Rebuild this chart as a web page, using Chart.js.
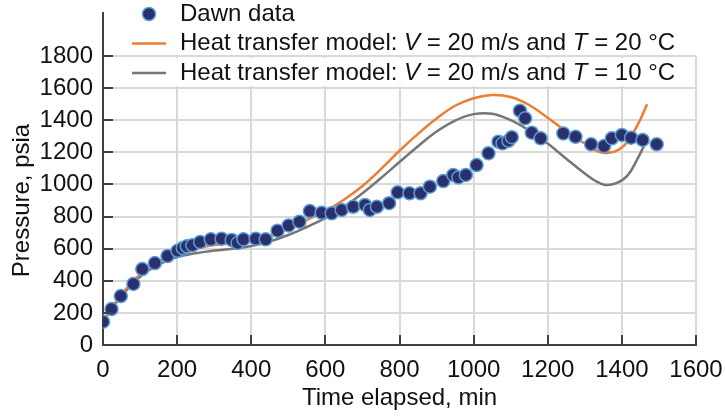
<!DOCTYPE html>
<html>
<head>
<meta charset="utf-8">
<script src="https://cdn.jsdelivr.net/npm/chart.js@4"></script>
<style>
  html, body { margin: 0; padding: 0; background: #fff; }
  #wrap { width: 725px; height: 417px; }
</style>
</head>
<body>
<div id="wrap"><canvas id="chart" width="725" height="417"></canvas></div>
<script>
// Dawn measured pressure
const dawnTime = [0, 23, 48, 82, 106, 140, 174, 201, 215, 226, 241, 262, 291, 320, 347, 363, 379, 412, 439, 471, 501, 530, 558, 590, 617, 644, 675, 707, 720, 739, 772, 795, 827, 857, 882, 918, 945, 959, 979, 1008, 1040, 1067, 1078, 1094, 1103, 1125, 1139, 1157, 1181, 1242, 1275, 1317, 1352, 1373, 1400, 1425, 1456, 1494];
const dawnPressure = [145, 224, 305, 380, 473, 510, 554, 587, 604, 615, 621, 641, 658, 662, 654, 635, 658, 662, 658, 712, 745, 768, 834, 824, 820, 841, 861, 872, 841, 861, 883, 951, 945, 945, 986, 1021, 1059, 1044, 1059, 1121, 1194, 1266, 1256, 1272, 1294, 1459, 1412, 1322, 1287, 1318, 1297, 1250, 1239, 1287, 1308, 1291, 1277, 1250];

// Heat transfer model, V = 20 m/s, T = 20 C
const model20Time = [0, 25, 50, 100, 150, 200, 250, 300, 350, 400, 450, 500, 550, 600, 650, 700, 750, 800, 850, 900, 950, 1000, 1050, 1100, 1150, 1200, 1250, 1300, 1350, 1400, 1440, 1468];
const model20Pressure = [150, 235, 315, 440, 520, 570, 600, 622, 635, 648, 675, 725, 780, 835, 905, 990, 1095, 1210, 1315, 1410, 1490, 1537, 1557, 1545, 1495, 1415, 1330, 1255, 1197, 1230, 1360, 1500];

// Heat transfer model, V = 20 m/s, T = 10 C
const model10Time = [0, 25, 50, 100, 150, 200, 250, 300, 350, 400, 450, 500, 550, 600, 650, 700, 750, 800, 850, 900, 950, 1000, 1050, 1100, 1150, 1200, 1250, 1300, 1330, 1355, 1385, 1415, 1440, 1465];
const model10Pressure = [150, 228, 305, 425, 500, 548, 572, 588, 600, 617, 645, 685, 735, 790, 860, 945, 1040, 1140, 1238, 1330, 1398, 1438, 1440, 1400, 1335, 1255, 1160, 1068, 1020, 997, 1008, 1055, 1150, 1266];

const xTicks = [0, 200, 400, 600, 800, 1000, 1200, 1400, 1600];
const yTicks = [0, 200, 400, 600, 800, 1000, 1200, 1400, 1600, 1800];

const FONT = "'Liberation Sans', Arial, sans-serif";
const FSIZE = 24;
const ORANGE = '#ed7d31';
const GREY = '#767676';
const AXIS = '#404040';
const NAVY = '#2b2f6b';
const EDGE = '#5b9bd5';

function toPoints(xs, ys) {
    return xs.map((x, i) => ({ x: x, y: ys[i] }));
}

const legendItems = [
    { kind: 'dot', parts: [['Dawn data', false]] },
    { kind: 'line', color: ORANGE, parts: [['Heat transfer model: ', false], ['V', true], [' = 20 m/s and ', false], ['T', true], [' = 20 °C', false]] },
    { kind: 'line', color: GREY, parts: [['Heat transfer model: ', false], ['V', true], [' = 20 m/s and ', false], ['T', true], [' = 10 °C', false]] }
];

// extra drawing: white patch under legend, inward ticks, taller y spine, legend
const extras = {
    id: 'extras',
    beforeDatasetsDraw(chart) {
        const { ctx, chartArea, scales } = chart;
        const y1600 = scales.y.getPixelForValue(1600);
        ctx.save();
        ctx.fillStyle = '#fff';
        ctx.fillRect(chartArea.left + 2, chartArea.top + 2, 580, y1600 - chartArea.top - 4);
        ctx.restore();
    },
    afterDraw(chart) {
        const { ctx, chartArea, scales } = chart;
        ctx.save();
        ctx.strokeStyle = AXIS;
        ctx.lineWidth = 2;
        ctx.beginPath();
        xTicks.forEach(v => {
            const px = Math.round(scales.x.getPixelForValue(v));
            ctx.moveTo(px, chartArea.bottom);
            ctx.lineTo(px, chartArea.bottom - 10);
        });
        yTicks.forEach(v => {
            const py = Math.round(scales.y.getPixelForValue(v));
            ctx.moveTo(chartArea.left, py);
            ctx.lineTo(chartArea.left + 10, py);
        });
        // spine continues above the 1800 line
        ctx.moveTo(chartArea.left, chartArea.top);
        ctx.lineTo(chartArea.left, 12);
        ctx.stroke();

        // legend
        ctx.textBaseline = 'middle';
        legendItems.forEach((item, i) => {
            const cy = 14 + i * 29.5;
            if (item.kind === 'dot') {
                ctx.beginPath();
                ctx.arc(149, cy, 6.5, 0, Math.PI * 2);
                ctx.fillStyle = NAVY;
                ctx.fill();
                ctx.lineWidth = 1.5;
                ctx.strokeStyle = EDGE;
                ctx.stroke();
            } else {
                ctx.beginPath();
                ctx.moveTo(132, cy);
                ctx.lineTo(166, cy);
                ctx.lineWidth = 2.5;
                ctx.strokeStyle = item.color;
                ctx.stroke();
            }
            let x = 180;
            ctx.fillStyle = '#111';
            item.parts.forEach(([txt, italic]) => {
                ctx.font = (italic ? 'italic ' : '') + FSIZE + 'px ' + FONT;
                ctx.fillText(txt, x, cy);
                x += ctx.measureText(txt).width;
            });
        });
        ctx.restore();
    }
};

new Chart(document.getElementById('chart').getContext('2d'), {
    type: 'scatter',
    data: {
        datasets: [
            {
                label: 'Dawn data',
                data: toPoints(dawnTime, dawnPressure),
                pointRadius: 6.5,
                pointBackgroundColor: NAVY,
                pointBorderColor: EDGE,
                pointBorderWidth: 1.5,
                showLine: false,
                order: 0
            },
            {
                type: 'line',
                label: 'Heat transfer model: V = 20 m/s and T = 20 °C',
                data: toPoints(model20Time, model20Pressure),
                borderColor: ORANGE,
                borderWidth: 2.5,
                pointRadius: 0,
                tension: 0.4,
                fill: false,
                order: 1
            },
            {
                type: 'line',
                label: 'Heat transfer model: V = 20 m/s and T = 10 °C',
                data: toPoints(model10Time, model10Pressure),
                borderColor: GREY,
                borderWidth: 2.5,
                pointRadius: 0,
                tension: 0.4,
                fill: false,
                order: 2
            }
        ]
    },
    options: {
        responsive: false,
        animation: false,
        layout: {
            padding: { top: 56, right: 29, left: 0, bottom: 0 }
        },
        scales: {
            x: {
                type: 'linear',
                min: 0,
                max: 1600,
                afterFit: scale => {
                    scale.height = 72;
                    scale.paddingLeft = 0;
                    scale.paddingRight = 0;
                },
                afterBuildTicks: scale => { scale.ticks = xTicks.map(v => ({ value: v })); },
                grid: { color: '#d9d9d9', lineWidth: 2, drawTicks: false },
                border: { color: AXIS, width: 2 },
                ticks: {
                    color: '#111',
                    padding: 11,
                    font: { family: FONT, size: FSIZE },
                    callback: v => String(v)
                },
                title: {
                    display: true,
                    text: 'Time elapsed, min',
                    color: '#111',
                    font: { family: FONT, size: FSIZE },
                    padding: { top: 0, bottom: 4 }
                }
            },
            y: {
                min: 0,
                max: 1800,
                afterFit: scale => {
                    scale.width = 103;
                    scale.paddingTop = 0;
                    scale.paddingBottom = 0;
                },
                afterBuildTicks: scale => { scale.ticks = yTicks.map(v => ({ value: v })); },
                grid: { color: '#d9d9d9', lineWidth: 2, drawTicks: false },
                border: { color: AXIS, width: 2 },
                ticks: {
                    color: '#111',
                    padding: 10,
                    font: { family: FONT, size: FSIZE },
                    callback: v => String(v)
                },
                title: {
                    display: true,
                    text: 'Pressure, psia',
                    color: '#111',
                    font: { family: FONT, size: FSIZE },
                    padding: { top: 8, bottom: 0 }
                }
            }
        },
        plugins: {
            legend: { display: false },
            tooltip: { enabled: false }
        }
    },
    plugins: [extras]
});
</script>
</body>
</html>
